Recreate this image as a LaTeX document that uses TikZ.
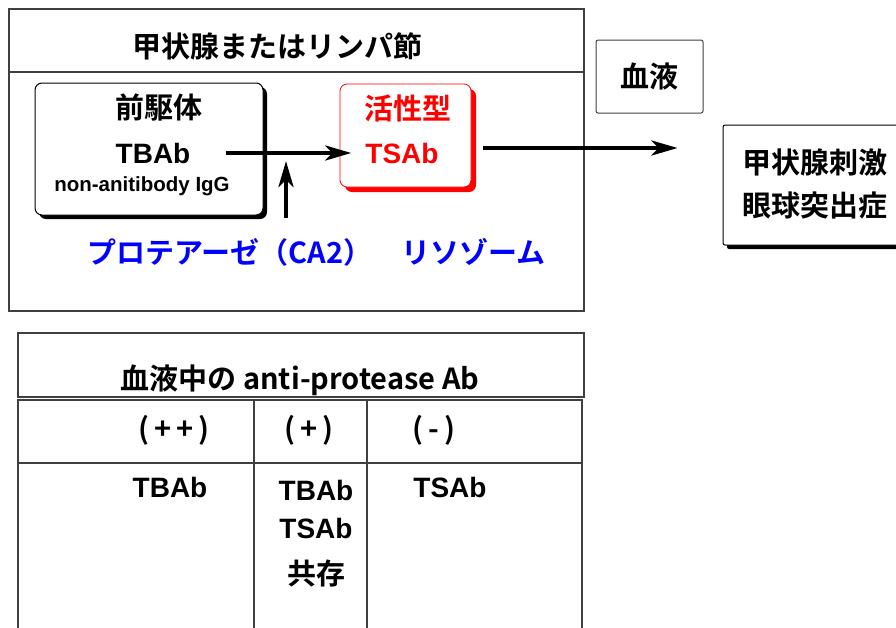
\documentclass[tikz,border=0pt]{standalone}
\usepackage{fontspec}
\setmainfont{Liberation Sans}
\newfontfamily\jp{Noto Sans CJK JP}[BoldFont={Noto Sans CJK JP Bold}]
\usetikzlibrary{arrows.meta,shadows}
\tikzset{frame/.style={draw=black!75,line width=1.2pt}}
\tikzset{jtxt/.style={font=\jp\bfseries\fontsize{29}{31}\selectfont,inner sep=0pt}}
\tikzset{ltxt/.style={font=\bfseries\fontsize{28}{30}\selectfont,inner sep=0pt}}
\tikzset{arr/.style={line width=4pt,-{Stealth[length=26pt,width=15pt,inset=7pt]}}}
\tikzset{prebox/.style={draw=black,line width=1pt,fill=white,rounded corners=7pt,
  drop shadow={shadow xshift=4pt,shadow yshift=-4pt,fill=black,opacity=1}}}
\tikzset{actbox/.style={draw=red,line width=0.8pt,fill=white,rounded corners=7pt,
  drop shadow={shadow xshift=5pt,shadow yshift=-5pt,fill=red,opacity=1}}}

\begin{document}
\begin{tikzpicture}[x=1pt,y=-1pt]
\clip (0,0) rectangle (896,627);
\fill[white] (0,0) rectangle (896,627);
\draw[frame] (9,9) rectangle (584,311) (9,72) -- (584,72);
\node[jtxt] (gland) at (277,46) {甲状腺またはリンパ節};
\node[prebox,minimum width=228pt,minimum height=132pt] (pre) at (149,149) {};
\node[jtxt] (prec) at (159,107) {前駆体};
\node[ltxt] (tbab) at (153,153) {TBAb};
\node[ltxt,font=\bfseries\fontsize{20.5}{22}\selectfont] (igg) at (142,186) {non-anitibody IgG};
\node[actbox,minimum width=131pt,minimum height=103pt] (act) at (405.5,135.5) {};
\node[jtxt,red] (type) at (408,108) {活性型};
\node[ltxt,red] (tsab) at (402,153) {TSAb};
\draw[arr] ([xshift=35pt]tbab.east) -- ([xshift=-14pt]tsab.west);
\coordinate (enz) at (286,218);
\coordinate (cut) at (286,161);
\draw[arr] (enz) -- (cut);
\node[jtxt,blue] (prot) at (316.5,252) {プロテアーゼ（CA2）　リソゾーム};
\node[draw=black!75,line width=1pt,rounded corners=2pt,minimum width=107pt,minimum height=73pt,jtxt] (blood) at (649.5,76.5) {血液};
\node[draw=black,line width=1pt,fill=white,rounded corners=2pt,minimum width=220pt,minimum height=120pt,
  drop shadow={shadow xshift=4pt,shadow yshift=-4pt,fill=black,opacity=1}] (eff) at (833,185) {};
\node[jtxt] (stim) at (815,163) {甲状腺刺激};
\node[jtxt] (exo) at (815,205) {眼球突出症};
\draw[arr] ([shift={(12pt,5pt)}]tsab -| act.east) -- ([shift={(-45pt,5pt)}]tsab -| eff.west);
\draw[frame] (18,333) rectangle (584,397);
\draw[frame] (18,400) rectangle (582,640);
\draw[frame] (254,400) -- (254,640) (367,400) -- (367,640) (18,463) -- (582,463);
\node[jtxt] (tabtitle) at (300,380) {血液中の anti-protease Ab};
\node[jtxt] (pp) at (174,430) {(\,+\,+\,)};
\node[jtxt] (p) at (309,430) {(\,+\,)};
\node[jtxt] (m) at (434,430) {(\,-\,)};
\node[ltxt] (b1) at (170,487) {TBAb};
\node[ltxt] (b2) at (316,490) {TBAb};
\node[ltxt] (s2) at (316,528) {TSAb};
\node[jtxt] (co) at (316,573) {共存};
\node[ltxt] (s3) at (450,487) {TSAb};
\end{tikzpicture}
\end{document}
